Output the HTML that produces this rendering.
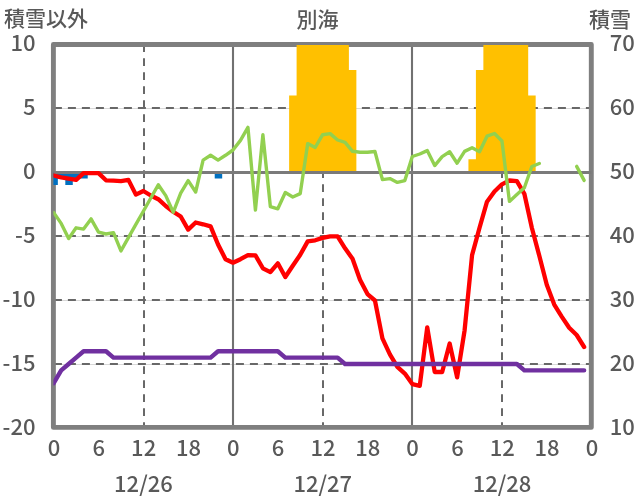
<!DOCTYPE html>
<html><head><meta charset="utf-8"><title>別海</title>
<style>
html,body{margin:0;padding:0;background:#fff;}
svg{display:block;}
.n{font-family:"Noto Sans CJK JP","Liberation Sans",sans-serif;font-weight:500;font-size:22px;fill:#595959;}
.j{font-family:"Noto Sans CJK JP","Liberation Sans",sans-serif;font-weight:500;font-size:21px;fill:#595959;}
</style></head>
<body>
<svg width="636" height="501" viewBox="0 0 636 501">
<defs><clipPath id="pb"><rect x="53.4" y="45" width="537.90" height="382.40"/></clipPath><clipPath id="pa"><rect x="53.4" y="44.5" width="537.90" height="382.90"/></clipPath></defs>
<line x1="53.4" y1="108.5" x2="591.3" y2="108.5" stroke="#D9D9D9" stroke-width="1"/>
<line x1="53.9" y1="108" x2="591.3" y2="108" stroke="#686868" stroke-width="2" stroke-dasharray="8 6"/>
<line x1="53.4" y1="236.5" x2="591.3" y2="236.5" stroke="#D9D9D9" stroke-width="1"/>
<line x1="53.9" y1="236" x2="591.3" y2="236" stroke="#686868" stroke-width="2" stroke-dasharray="8 6"/>
<line x1="53.4" y1="300.5" x2="591.3" y2="300.5" stroke="#D9D9D9" stroke-width="1"/>
<line x1="53.9" y1="300" x2="591.3" y2="300" stroke="#686868" stroke-width="2" stroke-dasharray="8 6"/>
<line x1="53.4" y1="364.5" x2="591.3" y2="364.5" stroke="#D9D9D9" stroke-width="1"/>
<line x1="53.9" y1="364" x2="591.3" y2="364" stroke="#686868" stroke-width="2" stroke-dasharray="8 6"/>
<line x1="144" y1="44.2" x2="144" y2="427.4" stroke="#686868" stroke-width="2" stroke-dasharray="7.8 6.2"/>
<line x1="323" y1="44.2" x2="323" y2="427.4" stroke="#686868" stroke-width="2" stroke-dasharray="7.8 6.2"/>
<line x1="502" y1="44.2" x2="502" y2="427.4" stroke="#686868" stroke-width="2" stroke-dasharray="7.8 6.2"/>
<line x1="233" y1="44.5" x2="233" y2="427.4" stroke="#717171" stroke-width="2.1"/>
<line x1="412" y1="44.5" x2="412" y2="427.4" stroke="#717171" stroke-width="2.1"/>
<rect x="53.4" y="44.5" width="537.90" height="382.90" fill="none" stroke="#7F7F7F" stroke-width="4.9" stroke-linejoin="round"/>
<g clip-path="url(#pb)">
<path d="M289.13,172.13L289.13,95.55L296.60,95.55L296.60,18.97L304.07,18.97L304.07,18.97L311.54,18.97L311.54,18.97L319.01,18.97L319.01,18.97L326.49,18.97L326.49,18.97L333.96,18.97L333.96,18.97L341.43,18.97L341.43,18.97L348.90,18.97L348.90,70.03L356.37,70.03L356.37,172.13Z" fill="#FFC000"/>
<path d="M468.43,172.13L468.43,159.37L475.90,159.37L475.90,70.03L483.37,70.03L483.37,18.97L490.84,18.97L490.84,18.97L498.31,18.97L498.31,18.97L505.79,18.97L505.79,18.97L513.26,18.97L513.26,18.97L520.73,18.97L520.73,18.97L528.20,18.97L528.20,95.55L535.67,95.55L535.67,172.13Z" fill="#FFC000"/>
<path d="M50.36,172.13L50.36,184.90L57.84,184.90L57.84,178.51L65.31,178.51L65.31,184.90L72.78,184.90L72.78,178.51L80.25,178.51L80.25,178.51L87.72,178.51L87.72,172.13Z" fill="#0070C0"/>
<path d="M214.72,172.13L214.72,178.51L222.19,178.51L222.19,172.13Z" fill="#0070C0"/>
</g>
<line x1="53.4" y1="172.5" x2="591.3" y2="172.5" stroke="#7A7A7A" stroke-width="3"/>
<g clip-path="url(#pa)" fill="none" stroke-linejoin="round" stroke-linecap="round">
<polyline points="53.70,175.50 61.17,177.30 68.64,178.60 76.11,179.90 83.58,173.10 91.05,173.10 98.52,173.10 106.00,180.30 113.47,180.60 120.94,181.10 128.41,179.90 135.88,194.60 143.35,191.00 150.82,195.50 158.29,199.20 165.76,206.00 173.23,211.70 180.70,216.50 188.18,229.60 195.65,222.50 203.12,224.30 210.59,226.40 218.06,244.50 225.53,259.20 233.00,262.70 240.47,259.20 247.94,255.10 255.41,255.30 262.88,268.30 270.35,272.10 277.82,263.30 285.30,277.00 292.77,265.80 300.24,254.80 307.71,241.40 315.18,240.30 322.65,237.90 330.12,236.30 337.59,236.40 345.06,248.30 352.53,258.80 360.00,279.80 367.47,294.10 374.95,300.50 382.42,338.30 389.89,354.30 397.36,366.80 404.83,373.60 412.30,384.10 419.77,385.80 427.24,327.30 434.71,372.00 442.18,372.00 449.65,343.50 457.12,377.30 464.60,330.30 472.07,255.10 479.54,227.80 487.01,201.70 494.48,191.50 501.95,184.30 509.42,180.50 516.89,181.10 524.36,193.80 531.83,227.80 539.30,255.80 546.77,284.80 554.25,304.60 561.72,316.60 569.19,327.80 576.66,335.00 584.13,347.00" stroke="#FF0000" stroke-width="4.3"/>
<polyline points="53.70,383.13 61.17,370.36 68.64,363.98 76.11,357.60 83.58,351.22 91.05,351.22 98.52,351.22 106.00,351.22 113.47,357.60 120.94,357.60 128.41,357.60 135.88,357.60 143.35,357.60 150.82,357.60 158.29,357.60 165.76,357.60 173.23,357.60 180.70,357.60 188.18,357.60 195.65,357.60 203.12,357.60 210.59,357.60 218.06,351.22 225.53,351.22 233.00,351.22 240.47,351.22 247.94,351.22 255.41,351.22 262.88,351.22 270.35,351.22 277.82,351.22 285.30,357.60 292.77,357.60 300.24,357.60 307.71,357.60 315.18,357.60 322.65,357.60 330.12,357.60 337.59,357.60 345.06,363.98 352.53,363.98 360.00,363.98 367.47,363.98 374.95,363.98 382.42,363.98 389.89,363.98 397.36,363.98 404.83,363.98 412.30,363.98 419.77,363.98 427.24,363.98 434.71,363.98 442.18,363.98 449.65,363.98 457.12,363.98 464.60,363.98 472.07,363.98 479.54,363.98 487.01,363.98 494.48,363.98 501.95,363.98 509.42,363.98 516.89,363.98 524.36,370.36 531.83,370.36 539.30,370.36 546.77,370.36 554.25,370.36 561.72,370.36 569.19,370.36 576.66,370.36 584.13,370.36" stroke="#7030A0" stroke-width="4.4"/>
<polyline points="53.70,212.60 61.17,223.40 68.64,238.60 76.11,227.80 83.58,229.10 91.05,218.90 98.52,232.10 106.00,234.00 113.47,232.60 120.94,250.90 128.41,237.68 135.88,224.46 143.35,211.24 150.82,198.02 158.29,184.80 165.76,195.60 173.23,212.30 180.70,193.20 188.18,180.60 195.65,192.00 203.12,160.10 210.59,155.30 218.06,160.10 225.53,155.30 233.00,150.00 240.47,140.40 247.94,127.40 255.41,210.00 262.88,134.80 270.35,206.60 277.82,208.80 285.30,192.50 292.77,197.00 300.24,193.60 307.71,143.60 315.18,147.50 322.65,134.70 330.12,133.60 337.59,140.00 345.06,142.40 352.53,151.30 360.00,152.20 367.47,152.30 374.95,151.50 382.42,179.60 389.89,178.60 397.36,182.40 404.83,180.60 412.30,156.50 419.77,154.00 427.24,150.60 434.71,165.60 442.18,156.60 449.65,151.80 457.12,163.20 464.60,151.40 472.07,147.80 479.54,151.80 487.01,136.20 494.48,133.50 501.95,141.00 509.42,201.40 516.89,194.50 524.36,187.80 531.83,166.50 539.30,163.50" stroke="#92D050" stroke-width="3.4"/>
<polyline points="576.66,166.40 584.13,180.40" stroke="#92D050" stroke-width="3.4"/>
</g>
<text x="4" y="26.2" class="j">積雪以外</text>
<text x="296.6" y="27.4" class="j">別海</text>
<text x="589" y="26.7" class="j">積雪</text>
<text x="35.5" y="51.00" text-anchor="end" class="n">10</text>
<text x="35.5" y="115.05" text-anchor="end" class="n">5</text>
<text x="35.5" y="179.10" text-anchor="end" class="n">0</text>
<text x="35.5" y="243.15" text-anchor="end" class="n">-5</text>
<text x="35.5" y="307.20" text-anchor="end" class="n">-10</text>
<text x="35.5" y="371.25" text-anchor="end" class="n">-15</text>
<text x="35.5" y="435.30" text-anchor="end" class="n">-20</text>
<text x="609.8" y="50.90" class="n">70</text>
<text x="609.8" y="114.95" class="n">60</text>
<text x="609.8" y="179.00" class="n">50</text>
<text x="609.8" y="243.05" class="n">40</text>
<text x="609.8" y="307.10" class="n">30</text>
<text x="609.8" y="371.15" class="n">20</text>
<text x="609.8" y="435.20" class="n">10</text>
<text x="54.00" y="455.8" text-anchor="middle" class="n">0</text>
<text x="98.82" y="455.8" text-anchor="middle" class="n">6</text>
<text x="143.65" y="455.8" text-anchor="middle" class="n">12</text>
<text x="188.47" y="455.8" text-anchor="middle" class="n">18</text>
<text x="233.30" y="455.8" text-anchor="middle" class="n">0</text>
<text x="278.12" y="455.8" text-anchor="middle" class="n">6</text>
<text x="322.95" y="455.8" text-anchor="middle" class="n">12</text>
<text x="367.77" y="455.8" text-anchor="middle" class="n">18</text>
<text x="412.60" y="455.8" text-anchor="middle" class="n">0</text>
<text x="457.43" y="455.8" text-anchor="middle" class="n">6</text>
<text x="502.25" y="455.8" text-anchor="middle" class="n">12</text>
<text x="547.08" y="455.8" text-anchor="middle" class="n">18</text>
<text x="591.90" y="455.8" text-anchor="middle" class="n">0</text>
<text x="143.45" y="492" text-anchor="middle" class="n">12/26</text>
<text x="322.75" y="492" text-anchor="middle" class="n">12/27</text>
<text x="502.05" y="492" text-anchor="middle" class="n">12/28</text>
</svg>
</body></html>
